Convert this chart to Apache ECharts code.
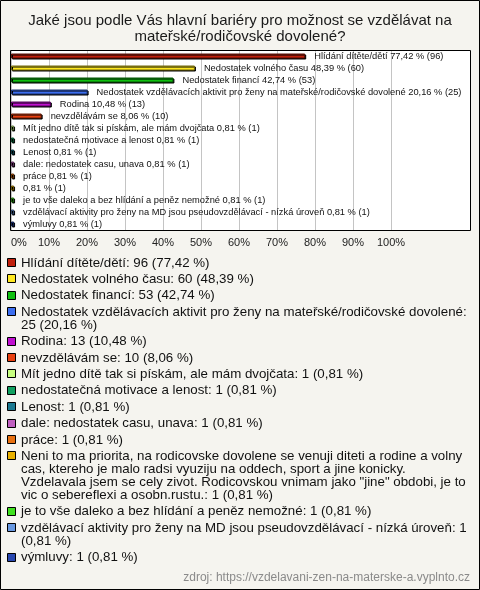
<!DOCTYPE html>
<html><head><meta charset="utf-8">
<script src="https://cdn.jsdelivr.net/npm/echarts@6/dist/echarts.min.js"></script>
<style>html,body{margin:0;padding:0;background:#f5f4ef}#c{width:480px;height:590px;}</style>
</head><body><div id="c"></div>
<script>
const titleText = 'Jaké jsou podle Vás hlavní bariéry pro možnost se vzdělávat na\nmateřské/rodičovské dovolené?';
const categories = [
  'Hlídání dítěte/dětí',
  'Nedostatek volného času',
  'Nedostatek financí',
  'Nedostatek vzdělávacích aktivit pro ženy na mateřské/rodičovské dovolené',
  'Rodina',
  'nevzdělávám se',
  'Mít jedno dítě tak si pískám, ale mám dvojčata',
  'nedostatečná motivace a lenost',
  'Lenost',
  'dale: nedostatek casu, unava',
  'práce',
  'Neni to ma priorita, na rodicovske dovolene se venuji diteti a rodine a volny cas, ktereho je malo radsi vyuziju na oddech, sport a jine konicky. Vzdelavala jsem se cely zivot. Rodicovskou vnimam jako "jine" obdobi, je to vic o sebereflexi a osobn.rustu.',
  'je to vše daleko a bez hlídání a peněz nemožné',
  'vzdělávací aktivity pro ženy na MD jsou pseudovzdělávací - nízká úroveň',
  'výmluvy'
];
const barLabels = [
  'Hlídání dítěte/dětí',
  'Nedostatek volného času',
  'Nedostatek financí',
  'Nedostatek vzdělávacích aktivit pro ženy na mateřské/rodičovské dovolené',
  'Rodina',
  'nevzdělávám se',
  'Mít jedno dítě tak si pískám, ale mám dvojčata',
  'nedostatečná motivace a lenost',
  'Lenost',
  'dale: nedostatek casu, unava',
  'práce',
  '',
  'je to vše daleko a bez hlídání a peněz nemožné',
  'vzdělávací aktivity pro ženy na MD jsou pseudovzdělávací - nízká úroveň',
  'výmluvy'
];
const counts = [96, 60, 53, 25, 13, 10, 1, 1, 1, 1, 1, 1, 1, 1, 1];
const percents = [77.42, 48.39, 42.74, 20.16, 10.48, 8.06, 0.81, 0.81, 0.81, 0.81, 0.81, 0.81, 0.81, 0.81, 0.81];
const colors = ['#c0200c', '#ffe820', '#10c010', '#3c6ef0', '#c010d0', '#e84010', '#c8ff80', '#10a060', '#1a7890', '#c060c0', '#e87010', '#e8b000', '#40e020', '#6898e0', '#2848b0'];
const tickValues = [0, 10, 20, 30, 40, 50, 60, 70, 80, 90, 100];
const sourceText = 'zdroj: https://vzdelavani-zen-na-materske-a.vyplnto.cz';

const FONT = '"Liberation Sans", Arial, sans-serif';
function fmt(v) { return v.toFixed(2).replace('.', ','); }
function darker(hex) {
  const n = parseInt(hex.slice(1), 16);
  const r = Math.round(((n >> 16) & 255) * 0.45), g = Math.round(((n >> 8) & 255) * 0.45), b = Math.round((n & 255) * 0.45);
  return 'rgb(' + r + ',' + g + ',' + b + ')';
}

// legend layout (text wrapping measured on canvas)
const LEG_FONT = '13.3px ' + FONT;
const ctx = document.createElement('canvas').getContext('2d');
ctx.font = LEG_FONT;
function wrap(text, maxW) {
  const words = text.split(' ');
  const lines = [];
  let cur = '';
  for (const w of words) {
    const test = cur ? cur + ' ' + w : w;
    if (cur && ctx.measureText(test).width > maxW) { lines.push(cur); cur = w; }
    else cur = test;
  }
  lines.push(cur);
  return lines;
}
const legendChildren = [];
let ly = 263;
categories.forEach(function (name, i) {
  const txt = name + ': ' + counts[i] + ' (' + fmt(percents[i]) + ' %)';
  const lines = wrap(txt, 449);
  legendChildren.push({
    type: 'rect', shape: { x: 7.5, y: Math.round(ly) - 4.5, width: 8, height: 8 },
    style: { fill: colors[i], stroke: '#000', lineWidth: 1 }, z: 10
  });
  legendChildren.push({
    type: 'text', x: 21, y: ly - 6.5, z: 10,
    style: { text: lines.join('\n'), font: LEG_FONT, lineHeight: 13, fill: '#111', verticalAlign: 'top' }
  });
  ly += lines.length * 13 + 3.4;
});

const chart = echarts.init(document.getElementById('c'), null, { renderer: 'canvas' });
chart.setOption({
  animation: false,
  backgroundColor: '#f5f4ef',
  title: [{
    text: titleText, left: 'center', top: 13, padding: 0,
    textStyle: { fontFamily: FONT, fontSize: 15, fontWeight: 'normal', color: '#1a1a1a', lineHeight: 16 }
  }, {
    text: sourceText, right: 10, top: 572, padding: 0,
    textStyle: { fontFamily: FONT, fontSize: 12, fontWeight: 'normal', color: '#8a8a8a' }
  }],
  grid: { left: 11, top: 50, width: 380, height: 180 },
  xAxis: {
    type: 'value', min: 0, max: 100, interval: 10,
    axisLine: { show: false }, axisTick: { show: false },
    axisLabel: {
      fontFamily: FONT, fontSize: 11, color: '#222', margin: 7, alignMinLabel: 'left',
      formatter: function (v) { return tickValues.indexOf(v) >= 0 ? v + '%' : ''; }
    },
    splitLine: { show: true, lineStyle: { color: '#c4c4c4', width: 1 } }
  },
  yAxis: {
    type: 'category', data: categories, inverse: true,
    axisLine: { show: false }, axisTick: { show: false }, axisLabel: { show: false }, splitLine: { show: false }
  },
  series: [{
    type: 'bar', barWidth: 5,
    data: percents.map(function (v, i) {
      return {
        value: v,
        itemStyle: { color: colors[i], borderColor: darker(colors[i]), borderWidth: 1, shadowColor: '#000', shadowOffsetX: 1, shadowOffsetY: 1, shadowBlur: 0 }
      };
    }),
    label: {
      show: true, position: 'right', distance: 9,
      fontFamily: FONT, fontSize: 9.3, color: '#111',
      formatter: function (p) {
        const i = p.dataIndex;
        return (barLabels[i] ? barLabels[i] + ' ' : '') + fmt(percents[i]) + ' % (' + counts[i] + ')';
      }
    }
  }],
  graphic: [
    { type: 'rect', z: -10, shape: { x: 10.5, y: 50.5, width: 460, height: 180 }, style: { fill: '#fff', stroke: null } },
    { type: 'rect', z: 50, silent: true, shape: { x: 10.5, y: 50.5, width: 460, height: 180 }, style: { fill: 'none', stroke: '#000', lineWidth: 1 } },
    { type: 'rect', z: 50, silent: true, shape: { x: 0.5, y: 0.5, width: 479, height: 589 }, style: { fill: 'none', stroke: '#000', lineWidth: 1 } },
    { type: 'group', children: legendChildren }
  ]
});
</script>
</body></html>
